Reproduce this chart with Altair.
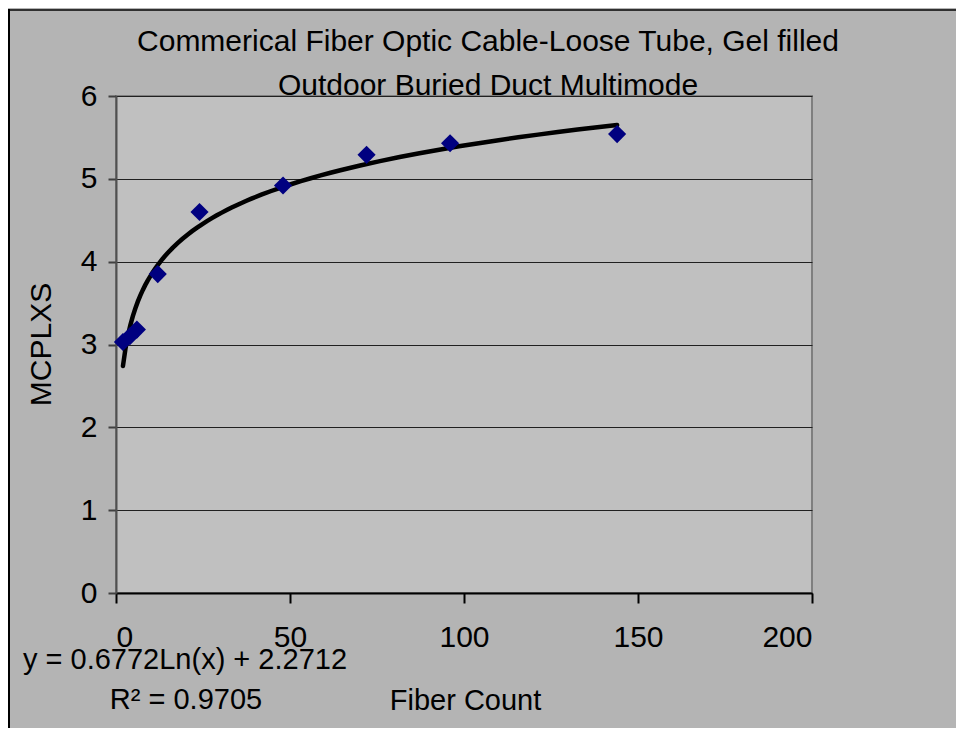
import altair as alt
import pandas as pd

# Data
fiber_count = [2, 4, 6, 12, 24, 48, 72, 96, 144]
mcplxs = [3.03, 3.10, 3.18, 3.85, 4.60, 4.92, 5.29, 5.43, 5.54]

title_lines = ["Commerical Fiber Optic Cable-Loose Tube, Gel filled",
               "Outdoor Buried Duct Multimode"]
equation_text = "y = 0.6772Ln(x) + 2.2712"
r2_text = "R\u00b2 = 0.9705"
x_ticks = [0, 50, 100, 150, 200]
y_ticks = [0, 1, 2, 3, 4, 5, 6]

df = pd.DataFrame({"x": fiber_count, "y": mcplxs})

FONT = "Liberation Sans"
FS = 30
W, H = 696, 497
PAD = {"left": 108, "top": 88, "right": 144, "bottom": 135}

x_enc = alt.X("x:Q", scale=alt.Scale(domain=[0, 200], nice=False),
              axis=alt.Axis(values=x_ticks, title="Fiber Count", grid=False,
                            format="d",
                            labelFontSize=FS, titleFontSize=FS - 1,
                            labelFont=FONT, titleFont=FONT,
                            labelColor="black", titleColor="black",
                            titleFontWeight="normal",
                            tickSize=10, tickColor="black", tickWidth=2,
                            domainColor="black", domainWidth=2,
                            labelPadding=19,
                            titleX=349, titleY=107, titleBaseline="middle"))
y_enc = alt.Y("y:Q", scale=alt.Scale(domain=[0, 6], nice=False),
              axis=alt.Axis(values=y_ticks, title="MCPLXS", grid=True,
                            format="d",
                            gridColor="#202020", gridWidth=1,
                            labelFontSize=FS, titleFontSize=FS,
                            labelFont=FONT, titleFont=FONT,
                            labelColor="black", titleColor="black",
                            titleFontWeight="normal",
                            tickSize=8, tickColor="#404040", tickWidth=2,
                            domainColor="#505050", domainWidth=2,
                            labelPadding=11,
                            titleX=-75, titleY=248, titleAngle=-90,
                            titleAlign="center", titleBaseline="middle"))

points = alt.Chart(df).mark_point(shape="diamond", filled=True, size=330,
                                  color="#000080", opacity=1).encode(x=x_enc, y=y_enc)

trend = alt.Chart(df).transform_regression(
    "x", "y", method="log"
).mark_line(color="black", strokeWidth=4.5, strokeCap="round").encode(
    x="x:Q", y="y:Q")

title1 = alt.Chart(pd.DataFrame({"t": [title_lines[0]]})).mark_text(
    font=FONT, fontSize=FS, align="center", baseline="alphabetic", color="black"
).encode(x=alt.value(372), y=alt.value(-45), text="t:N")
title2 = alt.Chart(pd.DataFrame({"t": [title_lines[1]]})).mark_text(
    font=FONT, fontSize=FS, align="center", baseline="alphabetic", color="black"
).encode(x=alt.value(372), y=alt.value(-1), text="t:N")

eq = alt.Chart(pd.DataFrame({"t": [equation_text]})).mark_text(
    font=FONT, fontSize=FS - 1, align="center", baseline="middle", color="black"
).encode(x=alt.value(69), y=alt.value(564), text="t:N")

r2 = alt.Chart(pd.DataFrame({"t": [r2_text]})).mark_text(
    font=FONT, fontSize=FS - 1, align="center", baseline="middle", color="black"
).encode(x=alt.value(70), y=alt.value(604), text="t:N")

border_top = alt.Chart(pd.DataFrame({"a": [0]})).mark_rule(
    color="#303030", strokeWidth=2).encode(
    x=alt.value(-108), x2=alt.value(W + PAD["right"]), y=alt.value(-86))
border_left = alt.Chart(pd.DataFrame({"a": [0]})).mark_rule(
    color="black", strokeWidth=2).encode(
    x=alt.value(-107), y=alt.value(-87), y2=alt.value(H + PAD["bottom"]))

chart = alt.layer(trend, points, title1, title2, eq, r2,
                  border_top, border_left).properties(
    width=W, height=H,
    padding=PAD,
    autosize=alt.AutoSizeParams(type="none"),
    background="#b4b4b4",
).configure_view(fill="#c0c0c0", stroke="#7f7f7f", strokeWidth=2)

chart.save("out.html", embed_options={"renderer": "svg", "actions": False})
